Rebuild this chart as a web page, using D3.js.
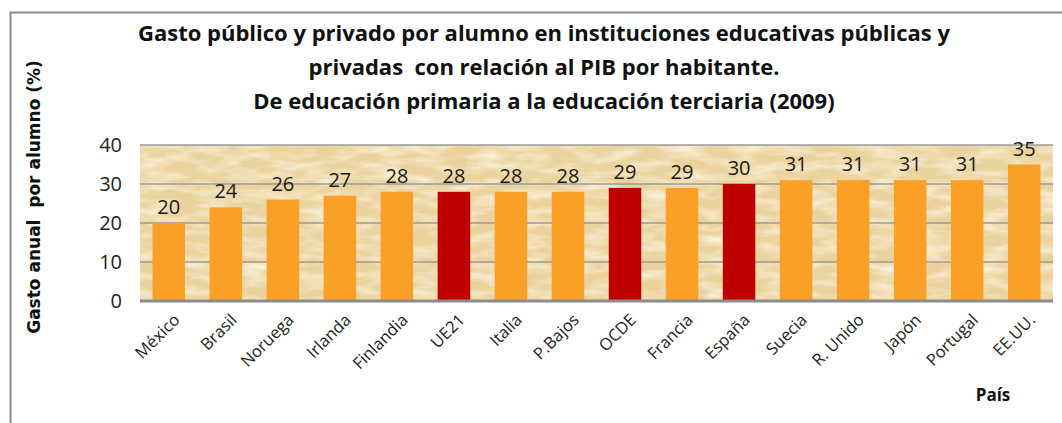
<!DOCTYPE html>
<html>
<head>
<meta charset="utf-8">
<script src="https://cdn.jsdelivr.net/npm/d3@7"></script>
<style>
  body { margin: 0; background: #fff; }
  svg { display: block; }
  text { font-family: "Open Sans", sans-serif; white-space: pre; }
</style>
</head>
<body>
<svg id="chart"></svg>
<script>
// data
const paises = ["México", "Brasil", "Noruega", "Irlanda", "Finlandia", "UE21", "Italia", "P.Bajos",
  "OCDE", "Francia", "España", "Suecia", "R. Unido", "Japón", "Portugal", "EE.UU."];
const gasto = [20, 24, 26, 27, 28, 28, 28, 28, 29, 29, 30, 31, 31, 31, 31, 35];
const destacados = ["UE21", "OCDE", "España"];
const yTicks = [0, 10, 20, 30, 40];
const titulo = [
  "Gasto público y privado por alumno en instituciones educativas públicas y",
  "privadas  con relación al PIB por habitante.",
  "De educación primaria a la educación terciaria (2009)"
];

const W = 1062, H = 423;
const margin = { top: 145, right: 9, bottom: 122, left: 140 };
const width = W - margin.left - margin.right;
const height = H - margin.top - margin.bottom;

const svg = d3.select("#chart").attr("width", W).attr("height", H);

// textura tipo papiro
const defs = svg.append("defs");
const filt = defs.append("filter").attr("id", "papiro")
  .attr("x", 0).attr("y", 0).attr("width", 1).attr("height", 1);
filt.append("feTurbulence").attr("type", "fractalNoise")
  .attr("baseFrequency", "0.03 0.11").attr("numOctaves", 3).attr("seed", 7).attr("result", "n");
filt.append("feColorMatrix").attr("in", "n").attr("type", "matrix")
  .attr("values", "0 0 0 0 0.99  0 0 0 0 0.95  0 0 0 0 0.83  1.6 0 0 0 -0.62");

// marco exterior
svg.append("rect")
  .attr("x", 10.5).attr("y", 12.5).attr("width", 1070).attr("height", 430)
  .attr("fill", "none").attr("stroke", "#8c8c8c").attr("stroke-width", 2);

const g = svg.append("g").attr("transform", `translate(${margin.left},${margin.top})`);

const x = d3.scaleBand().domain(paises).range([0, width]).paddingInner(0.43).paddingOuter(0.22);
const y = d3.scaleLinear().domain([0, 40]).range([height, 0]);

g.append("rect").attr("width", width).attr("height", height).attr("fill", "#ebd39e");
g.append("rect").attr("width", width).attr("height", height).attr("filter", "url(#papiro)");

// rejilla
g.selectAll(".grid").data(yTicks.filter(d => d > 0))
  .join("line")
  .attr("x1", 0).attr("x2", width)
  .attr("y1", d => y(d)).attr("y2", d => y(d))
  .attr("stroke", "#9a9a9a").attr("stroke-width", 1.5);

// barras
g.selectAll(".bar").data(paises)
  .join("rect")
  .attr("x", d => x(d))
  .attr("width", x.bandwidth())
  .attr("y", (d, i) => y(gasto[i]))
  .attr("height", (d, i) => height - y(gasto[i]))
  .attr("fill", d => destacados.includes(d) ? "#c00000" : "#fba026");

// etiquetas de valor
g.selectAll(".val").data(paises)
  .join("text")
  .attr("x", d => x(d) + x.bandwidth() / 2)
  .attr("y", (d, i) => y(gasto[i]) - 9)
  .attr("text-anchor", "middle")
  .attr("font-size", 20)
  .attr("fill", "#1a1a1a")
  .text((d, i) => gasto[i]);

// eje x (línea base)
g.append("line").attr("x1", 0).attr("x2", width).attr("y1", height).attr("y2", height)
  .attr("stroke", "#8c8c8c").attr("stroke-width", 3);

// eje y
const yAxis = g.append("g").call(d3.axisLeft(y).tickValues(yTicks).tickSize(0).tickPadding(18));
yAxis.select(".domain").remove();
yAxis.selectAll("text").attr("font-size", 20).attr("fill", "#222")
  .style("font-family", "'Open Sans', sans-serif");

// etiquetas de países
const xAxis = g.append("g").attr("transform", `translate(0,${height})`)
  .call(d3.axisBottom(x).tickSize(0).tickPadding(0));
xAxis.select(".domain").remove();
xAxis.selectAll("text")
  .attr("font-size", 16.5).attr("fill", "#222")
  .style("font-family", "'Open Sans', sans-serif")
  .attr("text-anchor", "end")
  .attr("dy", 0)
  .attr("transform", "translate(12,20) rotate(-45)");

// título
svg.append("g").selectAll("text").data(titulo)
  .join("text")
  .attr("x", 544)
  .attr("y", (d, i) => 41 + i * 34)
  .attr("text-anchor", "middle")
  .attr("font-size", 22)
  .attr("font-weight", "bold")
  .attr("fill", "#111")
  .text(d => d);

// título eje y
svg.append("text")
  .attr("transform", "translate(40,197) rotate(-90)")
  .attr("text-anchor", "middle")
  .attr("font-size", 17)
  .attr("font-weight", "bold")
  .style("font-family", "'DejaVu Sans', sans-serif")
  .attr("fill", "#111")
  .text("Gasto anual  por alumno (%)");

// título eje x
svg.append("text")
  .attr("x", 993).attr("y", 401)
  .attr("text-anchor", "middle")
  .attr("font-size", 17)
  .attr("font-weight", "bold")
  .attr("fill", "#111")
  .text("País");
</script>
</body>
</html>
